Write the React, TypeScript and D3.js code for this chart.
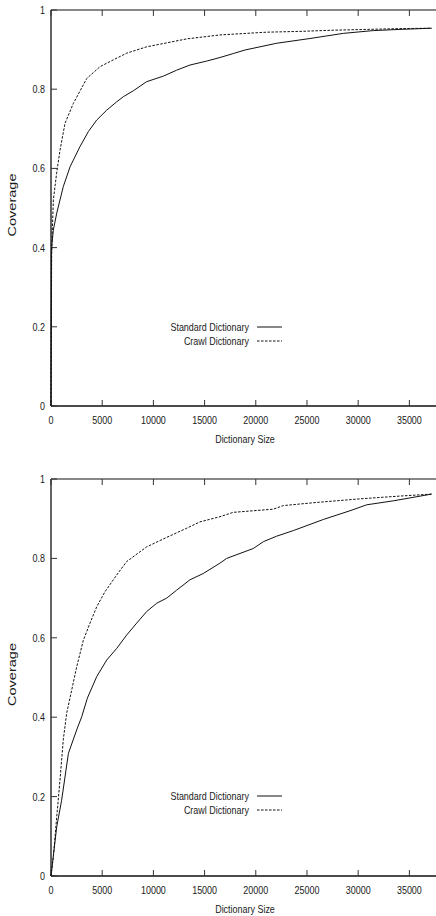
import React from "react";
import * as d3 from "d3";

// top panel
const stdSizeA = [0, 40, 100, 225, 560, 1200, 1860, 2830, 3650, 4460, 5440, 6410, 7060, 8040, 9340, 10970, 12270, 13570, 15200, 16500, 17800, 18950, 22040, 25290, 28550, 31480, 34080, 37180];
const stdCovA = [0, 0.38, 0.41, 0.444, 0.487, 0.554, 0.604, 0.655, 0.693, 0.722, 0.747, 0.768, 0.781, 0.796, 0.819, 0.833, 0.848, 0.861, 0.871, 0.88, 0.89, 0.899, 0.916, 0.928, 0.941, 0.948, 0.951, 0.954];
const crawlSizeA = [0, 30, 70, 230, 550, 880, 1370, 2180, 3490, 4790, 6080, 7390, 9340, 11300, 13250, 14550, 16500, 17800, 21060, 24320, 27570, 30830, 34080, 37180];
const crawlCovA = [0, 0.2, 0.4, 0.52, 0.588, 0.646, 0.714, 0.764, 0.827, 0.857, 0.874, 0.891, 0.907, 0.917, 0.927, 0.931, 0.937, 0.939, 0.944, 0.946, 0.949, 0.951, 0.953, 0.954];

// bottom panel
const stdSizeB = [0, 560, 1040, 1700, 2510, 3000, 3550, 4460, 5440, 6410, 7390, 8370, 9340, 10320, 11300, 12270, 13570, 14870, 16500, 17160, 19760, 20730, 22040, 23660, 26590, 29200, 30830, 33430, 37180];
const stdCovB = [0, 0.124, 0.191, 0.309, 0.368, 0.401, 0.448, 0.502, 0.544, 0.573, 0.607, 0.637, 0.666, 0.687, 0.7, 0.72, 0.746, 0.762, 0.788, 0.8, 0.825, 0.842, 0.856, 0.87, 0.898, 0.92, 0.935, 0.945, 0.962];
const crawlSizeB = [0, 230, 560, 880, 1200, 1530, 2020, 2510, 3160, 3810, 4460, 5270, 6410, 7390, 9340, 11300, 13250, 14550, 16500, 17800, 21710, 22690, 25950, 30180, 34080, 37180];
const crawlCovB = [0, 0.049, 0.149, 0.242, 0.343, 0.41, 0.468, 0.527, 0.594, 0.637, 0.678, 0.716, 0.758, 0.792, 0.829, 0.853, 0.876, 0.892, 0.905, 0.916, 0.924, 0.933, 0.941, 0.95, 0.957, 0.962];

const xTicks = [0, 5000, 10000, 15000, 20000, 25000, 30000, 35000];
const yTicks = [0, 0.2, 0.4, 0.6, 0.8, 1];
const seriesNames = ["Standard Dictionary", "Crawl Dictionary"];

const W = 436;
const H = 916;
const left = 51;
const font = "'Liberation Sans', Arial, Helvetica, sans-serif";
const sx = 0.8;

function Label(props: { x: number; y: number; anchor: string; text: string }) {
  return (
    <text
      transform={`translate(${props.x},${props.y}) scale(${sx},1)`}
      textAnchor={props.anchor}
      fontSize={11.2}
      fontFamily={font}
      fill="#1a1a1a"
    >
      {props.text}
    </text>
  );
}

function Panel(props: {
  top: number;
  bottom: number;
  std: [number[], number[]];
  crawl: [number[], number[]];
}) {
  const { top, bottom } = props;
  const x = d3.scaleLinear().domain([0, 37600]).range([left, W]);
  const y = d3.scaleLinear().domain([0, 1]).range([bottom, top]);
  const line = d3
    .line<[number, number]>()
    .x((d) => x(d[0]))
    .y((d) => y(d[1]));
  const stdPts = props.std[0].map((s, i) => [s, props.std[1][i]] as [number, number]);
  const crawlPts = props.crawl[0].map((s, i) => [s, props.crawl[1][i]] as [number, number]);
  const legY = top + 317;
  const tl = 6;

  return (
    <g>
      {/* frame */}
      <line x1={left} x2={W} y1={top} y2={top} stroke="#111" strokeWidth={1} />
      <line x1={left} x2={left} y1={top} y2={bottom} stroke="#111" strokeWidth={1.3} />
      <line x1={left} x2={W} y1={bottom} y2={bottom} stroke="#111" strokeWidth={1.6} />

      {xTicks.map((t) => (
        <g key={"x" + t}>
          <line x1={x(t)} x2={x(t)} y1={bottom} y2={bottom - tl} stroke="#333" strokeWidth={1} />
          <line x1={x(t)} x2={x(t)} y1={top} y2={top + tl} stroke="#333" strokeWidth={1} />
          <Label x={x(t)} y={bottom + 18} anchor="middle" text={String(t)} />
        </g>
      ))}
      {yTicks.map((t) => (
        <g key={"y" + t}>
          <line x1={left} x2={left + tl} y1={y(t)} y2={y(t)} stroke="#333" strokeWidth={1} />
          <Label x={45} y={y(t) + 4} anchor="end" text={String(t)} />
        </g>
      ))}

      <path d={line(stdPts) || ""} fill="none" stroke="#111" strokeWidth={1} />
      <path d={line(crawlPts) || ""} fill="none" stroke="#111" strokeWidth={1} strokeDasharray="2.5,1.5" />

      {/* legend */}
      <Label x={249} y={legY + 4} anchor="end" text={seriesNames[0]} />
      <line x1={257} x2={282} y1={legY} y2={legY} stroke="#111" strokeWidth={1} />
      <Label x={249} y={legY + 18} anchor="end" text={seriesNames[1]} />
      <line x1={257} x2={282} y1={legY + 14} y2={legY + 14} stroke="#111" strokeWidth={1} strokeDasharray="2.5,1.5" />

      {/* axis titles */}
      <text
        transform={`translate(16,${(top + bottom) / 2 - 3}) rotate(-90)`}
        textAnchor="middle"
        fontSize={11.2}
        fontFamily={font}
        fill="#1a1a1a"
        textLength={63}
        lengthAdjust="spacingAndGlyphs"
      >
        Coverage
      </text>
      <Label x={245} y={bottom + 37} anchor="middle" text="Dictionary Size" />
    </g>
  );
}

export default function App() {
  return (
    <svg
      width={W}
      height={H}
      viewBox={`0 0 ${W} ${H}`}
      style={{ position: "absolute", left: 0, top: 0, background: "#fff" }}
    >
      <rect width={W} height={H} fill="#fff" />
      <Panel top={10} bottom={406} std={[stdSizeA, stdCovA]} crawl={[crawlSizeA, crawlCovA]} />
      <Panel top={479} bottom={876} std={[stdSizeB, stdCovB]} crawl={[crawlSizeB, crawlCovB]} />
    </svg>
  );
}
